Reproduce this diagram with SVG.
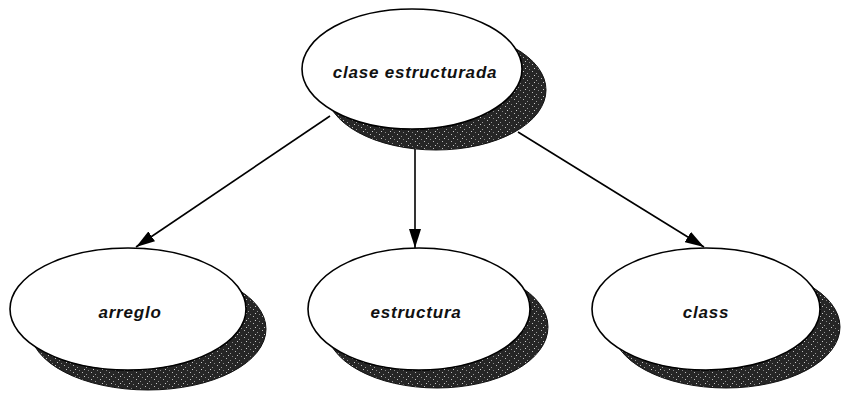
<svg xmlns="http://www.w3.org/2000/svg" width="842" height="397" viewBox="0 0 842 397">
<style>
.shadow{fill:url(#stipple);stroke:#111;stroke-width:1}
.node{fill:#fff;stroke:#000;stroke-width:1.6}
.lbl{font-family:"Liberation Sans",Arial,sans-serif;font-size:17px;font-weight:bold;font-style:italic;letter-spacing:0.8px;fill:#111;text-anchor:middle;dominant-baseline:central}
.edge{stroke:#000;stroke-width:1.6;fill:none}
</style>
<defs>
<pattern id="stipple" width="9" height="7" patternUnits="userSpaceOnUse">
<rect width="9" height="7" fill="#262626"/>
<rect x="1" y="1" width="1" height="1" fill="#bbb"/>
<rect x="5" y="3" width="1" height="1" fill="#999"/>
<rect x="3" y="5" width="1" height="1" fill="#ccc"/>
<rect x="7" y="6" width="1" height="1" fill="#888"/>
</pattern>
<marker id="ah" viewBox="0 0 19 12" refX="19" refY="6" markerWidth="19" markerHeight="12" markerUnits="userSpaceOnUse" orient="auto">
<path d="M0,0 L19,6 L0,12 Z" fill="#000"/>
</marker>
</defs>
<g id="connectors">
<line class="edge" x1="330" y1="116" x2="136" y2="247" marker-end="url(#ah)"/>
<line class="edge" x1="415" y1="140" x2="415" y2="248" marker-end="url(#ah)"/>
<line class="edge" x1="518" y1="132" x2="704" y2="247" marker-end="url(#ah)"/>
</g>
<g id="node-clase-estructurada">
<ellipse class="shadow" cx="436" cy="90" rx="110" ry="60"/>
<ellipse class="node" cx="412" cy="69" rx="110" ry="60"/>
<text class="lbl" x="415" y="72">clase estructurada</text>
</g>
<g id="node-arreglo">
<ellipse class="shadow" cx="148" cy="329" rx="118" ry="61"/>
<ellipse class="node" cx="128" cy="309" rx="118" ry="61"/>
<text class="lbl" x="130" y="312">arreglo</text>
</g>
<g id="node-estructura">
<ellipse class="shadow" cx="437" cy="327" rx="111" ry="61"/>
<ellipse class="node" cx="419" cy="309" rx="111" ry="61"/>
<text class="lbl" x="416" y="312">estructura</text>
</g>
<g id="node-class">
<ellipse class="shadow" cx="726" cy="327" rx="114" ry="61"/>
<ellipse class="node" cx="706" cy="309" rx="114" ry="61"/>
<text class="lbl" x="706" y="312">class</text>
</g>
</svg>
